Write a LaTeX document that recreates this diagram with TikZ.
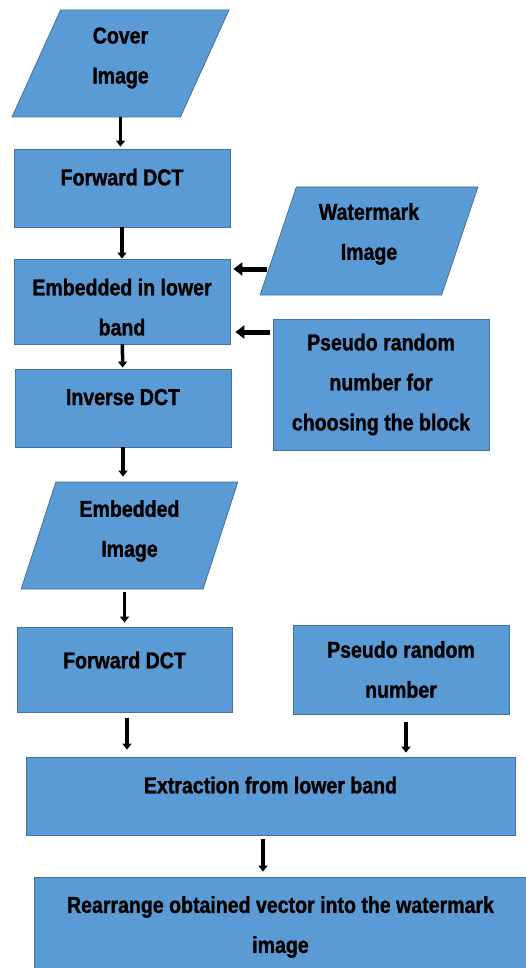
\documentclass[tikz,border=0pt]{standalone}
\usepackage{fontspec}
\setmainfont{Liberation Sans}[FakeStretch=0.85, FakeBold=1.2]
\usetikzlibrary{arrows.meta, positioning, shapes.geometric}
\definecolor{boxblu}{RGB}{91,155,213}
\definecolor{bordoblu}{RGB}{65,113,156}

\begin{document}
\begin{tikzpicture}[x=1pt, y=-1pt,
			every node/.style={font={\fontsize{23}{40}\selectfont\bfseries}, align=center},
			blocco/.style={rectangle, draw=bordoblu, fill=boxblu, line width=0.8pt,
				minimum width=216pt, minimum height=78pt},
			dati/.style={trapezium, trapezium left angle=72, trapezium right angle=108,
				trapezium stretches=true, draw=bordoblu, fill=boxblu, line width=0.8pt,
				minimum width=217pt, minimum height=107pt},
			freccia/.style={-{Triangle[length=6pt, width=9pt]}, line width=3.5pt},
			frecciaO/.style={-{Triangle[length=9pt, width=13pt]}, line width=5pt}]
			
			\useasboundingbox (0,0) rectangle (525,968);
			
			% --- Inserimento ---
			\node[dati, text depth=16pt] (cover) at (120.5,63.5) {Cover\\Image};
			\node[blocco, text depth=22pt] (fdct) at (122,188) {Forward DCT};
			\node[blocco, minimum height=85pt, text height=68pt] (embed) at (122,301.5) {Embedded in lower\\band};
			\node[blocco, text depth=22pt] (idct) at (123,408) {Inverse DCT};
			\node[dati, minimum width=218pt, minimum height=108pt, text depth=19pt] (wm) at (369,241) {Watermark\\Image};
			\node[blocco, minimum height=131pt] (prng) at (381,384.5) {Pseudo random\\number for\\choosing the block};
			\node[dati, text depth=14pt] (embimg) at (129.5,535.5) {Embedded\\Image};
			
			% --- Estrazione ---
			\node[blocco, minimum width=215pt, minimum height=85pt, text depth=19pt] (fdct2) at (124.5,669.5) {Forward DCT};
			\node[blocco, minimum height=89pt] (prn) at (401,669.5) {Pseudo random\\number};
			\node[blocco, minimum width=489pt, text depth=22pt] (extr) at (270.5,796) {Extraction from lower band};
			\node[blocco, minimum width=493pt, minimum height=100pt] (rearr) at (280.5,927) {Rearrange obtained vector into the watermark\\image};
			
			% Frecce verticali
			\draw[freccia, shorten >=2pt] (cover.south) -- (cover.south |- fdct.north);
			\draw[freccia] (fdct) -- (embed);
			\draw[freccia, shorten >=1pt] (embed) -- (idct);
			\draw[freccia, shorten >=5pt] (idct.south) -- (idct.south |- embimg.north);
			\draw[freccia, shorten <=3pt, shorten >=4pt] (fdct2.north |- embimg.south) -- (fdct2.north);
			\draw[freccia, shorten <=6pt, shorten >=7pt] ([xshift=2.5pt]fdct2.south) -- ([xshift=2.5pt]fdct2.south |- extr.north);
			\draw[freccia, shorten <=8pt, shorten >=4pt] ([xshift=5pt]prn.south) -- ([xshift=5pt]prn.south |- extr.north);
			\draw[freccia, shorten <=4pt, shorten >=5pt] ([xshift=-7.5pt]extr.south) -- ([xshift=-7.5pt]extr.south |- rearr.north);
			
			% Frecce orizzontali verso il blocco di inserimento
			\coordinate (wmin) at ([shift={(-11pt,-28pt)}]wm.west);
			\coordinate (prin) at ([shift={(-3pt,52.5pt)}]prng.west);
			\draw[frecciaO, shorten >=3pt] (wmin) -- (wmin -| embed.east);
			\draw[frecciaO, shorten >=5pt] (prin) -- (prin -| embed.east);
			
		\end{tikzpicture}
\end{document}
